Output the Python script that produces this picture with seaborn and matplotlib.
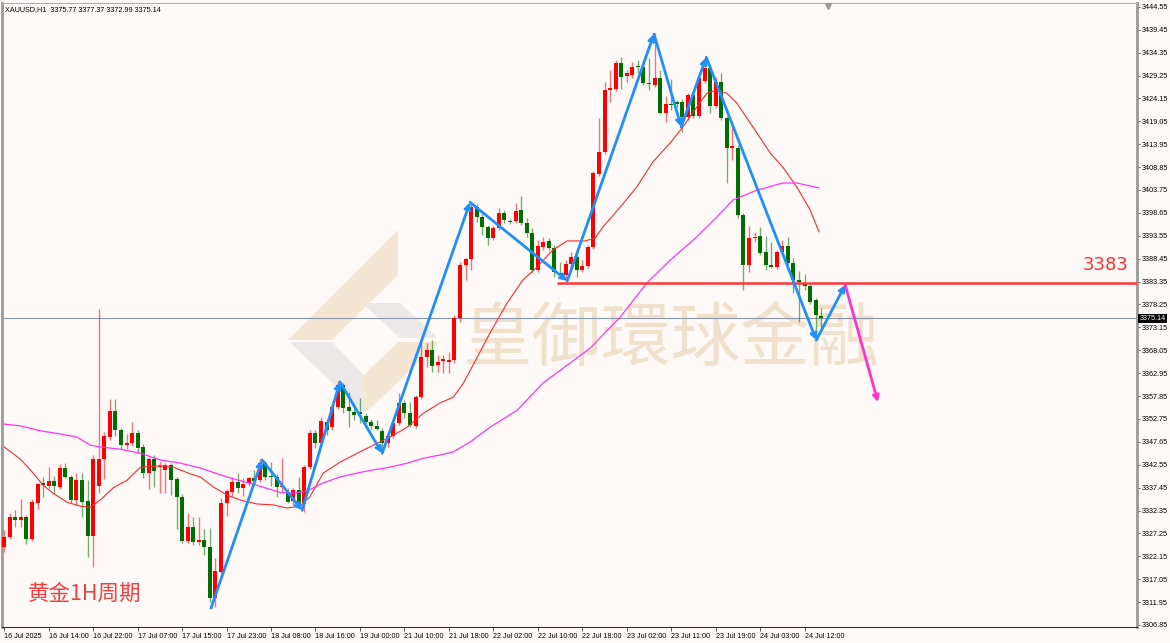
import numpy as np
import pandas as pd
import matplotlib
matplotlib.use('Agg')
import matplotlib.pyplot as plt
import seaborn as sns
from matplotlib.patches import Polygon

# XAUUSD H1 candles, bar 0 = 16 Jul 2025
opens = [3324.2, 3326.4, 3330.9, 3330.2, 3330.9, 3326.0, 3334.0, 3338.5, 3337.8, 3338.9,
         3337.6, 3341.8, 3339.8, 3334.7, 3339.1, 3334.5, 3326.7, 3337.8, 3343.8, 3348.7,
         3354.5, 3350.3, 3346.9, 3347.4, 3349.6, 3346.5, 3340.7, 3343.8, 3342.0, 3341.4,
         3342.5, 3339.4, 3335.4, 3325.6, 3328.7, 3325.3, 3325.8, 3324.2, 3312.9, 3318.7,
         3334.0, 3336.5, 3338.7, 3337.4, 3338.5, 3339.6, 3339.1, 3342.9, 3340.0, 3339.8,
         3337.6, 3336.5, 3334.5, 3336.9, 3333.8, 3342.0, 3349.6, 3347.4, 3352.1, 3351.0,
         3355.4, 3360.3, 3355.4, 3354.3, 3354.3, 3353.4, 3352.1, 3351.2, 3350.1, 3347.4,
         3348.9, 3351.8, 3356.3, 3354.1, 3351.2, 3357.6, 3366.5, 3368.1, 3364.8, 3365.7,
         3365.4, 3365.9, 3375.2, 3387.0, 3388.4, 3399.9, 3397.7, 3395.5, 3393.0, 3395.3,
         3398.6, 3396.8, 3396.8, 3399.3, 3396.4, 3394.2, 3385.9, 3391.0, 3392.4, 3390.8,
         3385.2, 3384.8, 3387.3, 3388.8, 3385.9, 3386.8, 3391.0, 3407.3, 3412.2, 3426.0,
         3426.2, 3432.0, 3429.1, 3429.3, 3431.3, 3431.1, 3427.6, 3427.1, 3428.7, 3420.9,
         3422.9, 3423.3, 3423.3, 3420.0, 3424.9, 3420.2, 3428.0, 3430.9, 3422.4, 3427.8,
         3419.8, 3413.1, 3413.1, 3398.2, 3387.0, 3393.0, 3393.5, 3389.9, 3387.0, 3386.6,
         3389.9, 3391.3, 3387.5, 3383.7, 3383.0, 3382.4, 3379.2, 3375.77]
highs = [3328.0, 3331.8, 3332.5, 3334.9, 3331.4, 3334.9, 3338.5, 3339.8, 3342.0, 3340.0,
         3342.7, 3342.9, 3340.3, 3340.7, 3340.7, 3339.1, 3344.7, 3377.2, 3349.8, 3357.2,
         3357.2, 3350.7, 3349.4, 3352.1, 3350.3, 3347.2, 3344.3, 3344.7, 3343.2, 3342.9,
         3342.9, 3339.8, 3336.0, 3331.8, 3330.9, 3330.9, 3328.2, 3328.5, 3321.8, 3335.1,
         3337.1, 3339.8, 3340.7, 3339.6, 3339.8, 3341.4, 3343.8, 3343.4, 3343.2, 3340.5,
         3344.0, 3337.4, 3337.4, 3339.8, 3342.5, 3350.3, 3350.3, 3353.2, 3352.7, 3355.9,
         3361.2, 3360.8, 3358.7, 3355.4, 3357.4, 3354.1, 3352.7, 3352.5, 3350.7, 3349.4,
         3352.7, 3358.5, 3357.0, 3356.5, 3358.1, 3370.3, 3369.7, 3370.3, 3367.0, 3367.0,
         3367.7, 3375.9, 3387.7, 3388.6, 3401.1, 3400.6, 3398.4, 3395.9, 3395.7, 3399.7,
         3399.3, 3397.3, 3400.8, 3402.4, 3397.5, 3395.3, 3392.6, 3393.3, 3393.0, 3391.5,
         3387.7, 3388.1, 3389.9, 3389.9, 3388.1, 3391.5, 3408.0, 3419.8, 3427.8, 3430.5,
         3432.7, 3433.4, 3430.5, 3432.2, 3432.7, 3432.7, 3433.1, 3438.7, 3430.5, 3424.7,
         3428.5, 3423.8, 3424.0, 3425.3, 3425.6, 3429.3, 3433.4, 3431.6, 3428.9, 3429.8,
         3420.2, 3418.7, 3413.8, 3398.6, 3395.7, 3394.4, 3395.5, 3393.5, 3392.2, 3390.4,
         3392.6, 3393.3, 3388.6, 3385.7, 3385.0, 3382.8, 3379.7, 3377.37]
lows = [3323.1, 3326.0, 3328.7, 3328.7, 3324.9, 3325.6, 3332.7, 3335.4, 3337.4, 3336.0,
        3337.1, 3339.6, 3334.0, 3333.6, 3330.9, 3322.0, 3319.8, 3336.2, 3339.4, 3348.1,
        3348.9, 3346.0, 3346.0, 3346.7, 3345.2, 3339.6, 3337.1, 3337.6, 3336.2, 3336.2,
        3335.8, 3328.2, 3325.1, 3325.1, 3324.7, 3324.7, 3322.4, 3312.0, 3310.9, 3318.2,
        3331.1, 3335.6, 3336.2, 3335.6, 3337.8, 3338.5, 3338.7, 3339.1, 3337.8, 3335.4,
        3336.5, 3334.0, 3333.6, 3333.4, 3332.0, 3341.6, 3346.3, 3346.9, 3349.2, 3350.3,
        3355.0, 3354.1, 3351.0, 3352.5, 3351.8, 3351.0, 3350.5, 3350.3, 3345.2, 3346.5,
        3348.5, 3351.4, 3353.0, 3351.0, 3350.7, 3357.2, 3364.3, 3363.2, 3363.2, 3363.0,
        3363.0, 3365.2, 3374.3, 3383.7, 3385.9, 3396.6, 3393.7, 3391.5, 3392.6, 3394.8,
        3396.4, 3396.2, 3396.4, 3395.9, 3393.3, 3385.2, 3385.5, 3390.4, 3390.4, 3384.4,
        3384.4, 3383.2, 3385.9, 3384.4, 3385.5, 3386.4, 3390.6, 3406.8, 3411.7, 3423.3,
        3425.8, 3426.2, 3427.8, 3428.7, 3429.8, 3427.1, 3426.0, 3426.7, 3420.7, 3418.9,
        3421.5, 3422.2, 3416.6, 3419.3, 3419.8, 3419.8, 3427.6, 3420.9, 3422.0, 3419.3,
        3405.3, 3410.4, 3397.5, 3381.5, 3385.5, 3392.2, 3389.3, 3385.9, 3386.4, 3386.1,
        3389.5, 3387.0, 3380.8, 3374.3, 3381.5, 3378.3, 3371.0, 3372.99]
closes = [3326.4, 3330.9, 3330.2, 3330.9, 3326.0, 3334.2, 3338.3, 3338.0, 3338.9, 3337.8,
          3341.8, 3339.8, 3334.7, 3339.1, 3334.2, 3326.7, 3343.8, 3343.8, 3348.9, 3354.5,
          3350.3, 3346.9, 3347.4, 3349.6, 3346.3, 3340.7, 3343.8, 3341.2, 3342.3, 3342.5,
          3339.1, 3335.4, 3325.6, 3328.7, 3325.3, 3325.8, 3324.2, 3312.9, 3318.9, 3334.0,
          3336.7, 3338.7, 3337.4, 3338.3, 3339.6, 3338.9, 3342.9, 3339.8, 3339.8, 3337.6,
          3337.8, 3334.2, 3336.9, 3333.8, 3342.0, 3349.6, 3347.4, 3352.3, 3350.3, 3355.4,
          3360.3, 3355.2, 3354.5, 3353.6, 3353.8, 3352.1, 3351.2, 3350.5, 3347.4, 3348.9,
          3351.8, 3356.3, 3354.1, 3351.4, 3357.6, 3366.5, 3368.1, 3364.5, 3365.4, 3365.9,
          3365.9, 3375.2, 3387.0, 3388.4, 3399.9, 3397.7, 3395.5, 3393.0, 3395.3, 3398.6,
          3397.0, 3396.6, 3399.0, 3396.4, 3394.2, 3385.9, 3391.3, 3392.2, 3390.8, 3385.5,
          3384.8, 3387.3, 3388.8, 3385.9, 3386.8, 3391.0, 3407.5, 3412.2, 3426.0, 3426.4,
          3432.0, 3428.9, 3429.8, 3431.1, 3431.1, 3427.6, 3427.3, 3428.7, 3420.9, 3422.9,
          3422.7, 3422.9, 3420.0, 3424.9, 3420.2, 3428.7, 3430.9, 3422.4, 3427.8, 3419.8,
          3413.1, 3413.5, 3398.2, 3387.0, 3393.0, 3393.3, 3389.7, 3387.0, 3386.6, 3389.9,
          3391.3, 3387.5, 3383.7, 3383.2, 3382.4, 3378.8, 3375.9, 3375.14]

time_labels = ['16 Jul 2025', '16 Jul 14:00', '16 Jul 22:00', '17 Jul 07:00', '17 Jul 15:00',
               '17 Jul 23:00', '18 Jul 08:00', '18 Jul 16:00', '19 Jul 00:00', '21 Jul 10:00',
               '21 Jul 18:00', '22 Jul 02:00', '22 Jul 10:00', '22 Jul 18:00', '23 Jul 02:00',
               '23 Jul 11:00', '23 Jul 19:00', '24 Jul 03:00', '24 Jul 12:00']

# red (fast) moving average, sampled along the line
ma_fast_bar = [0, 2.9, 5.2, 7, 8.8, 11.3, 13.7, 15.5, 17.3, 19.6, 22.1, 24.5, 28, 30.4, 33.5,
               35.3, 37.6, 40.1, 42.4, 45.5, 48.4, 50.9, 53.2, 55, 57.4, 60.4, 63.5, 66.4,
               69.4, 72.5, 75.4, 78.4, 80.8, 82.6, 85.1, 87.4, 90.5, 93.3, 95.9, 98.7, 101.3,
               104.5, 106.3, 107.7, 110.8, 113.8, 116.7, 119.8, 122.1, 124.6, 126.4, 128.2,
               130, 131.8, 134.7, 137.8, 140.1, 142.6, 145, 146.6]
ma_fast_val = [3346.5, 3343.8, 3340.7, 3338.0, 3336.2, 3334.2, 3333.3, 3333.1, 3334.7, 3337.4,
               3339.1, 3342.0, 3342.3, 3342.0, 3340.5, 3339.8, 3337.6, 3335.8, 3334.7, 3333.8,
               3333.6, 3332.9, 3333.3, 3335.4, 3340.7, 3343.1, 3345.1, 3346.9, 3348.7, 3350.9,
               3354.0, 3356.3, 3357.6, 3360.7, 3366.5, 3371.9, 3378.6, 3383.7, 3386.6, 3390.4,
               3392.4, 3392.4, 3393.0, 3395.5, 3399.9, 3404.4, 3410.0, 3414.2, 3417.8, 3422.2,
               3425.3, 3426.0, 3425.3, 3423.1, 3417.8, 3412.0, 3408.8, 3404.4, 3399.3, 3394.4]

# magenta (slow) moving average
ma_slow_bar = [0, 2.9, 6.5, 10.1, 13.1, 15.5, 17.3, 20.9, 24.5, 28.1, 31.7, 35.3, 40.1, 44.8,
               49.6, 52, 54.5, 57.4, 60.4, 63.5, 66.4, 69.4, 72.5, 75.4, 78.4, 80.8, 83.8,
               87.4, 92.3, 96.9, 101.8, 105.4, 110.8, 115.6, 119.8, 124.6, 128.2, 131.1,
               135.4, 140.1, 142.6, 146.6]
ma_slow_val = [3351.6, 3351.2, 3350.1, 3349.4, 3348.7, 3346.9, 3346.5, 3346.0, 3345.1, 3343.6,
               3342.9, 3341.8, 3339.8, 3338.2, 3336.4, 3336.2, 3336.7, 3338.5, 3339.8, 3340.7,
               3341.4, 3342.0, 3342.9, 3344.0, 3344.7, 3345.4, 3347.6, 3350.9, 3354.7, 3360.7,
               3365.2, 3368.5, 3375.4, 3383.0, 3388.1, 3393.3, 3397.7, 3401.5, 3403.7, 3405.3,
               3405.3, 3404.2]

# blue wave drawing and magenta projection
wave_bar = [37.2, 46.4, 53.6, 60.4, 68, 83.8, 101.3, 116.9, 121.8, 126.3, 146.1, 151.3]
wave_val = [3310.6, 3343.6, 3332.4, 3361.0, 3345.1, 3401.0, 3383.5, 3438.5, 3417.8, 3433.3,
            3370.3, 3382.6]
proj_bar = [151.3, 157.2]
proj_val = [3382.6, 3356.5]

level_price = 3383
level_start = 99.5
last_price = 3375.14

sns.set_theme(style='white')
plt.rcParams['font.family'] = ['Liberation Sans', 'DejaVu Sans', 'Noto Sans CJK SC']

bg = '#fffaf8'
fig = plt.figure(figsize=(11.7, 6.43), dpi=100, facecolor=bg)
ax = fig.add_axes([2 / 1170, 16 / 643, 1135 / 1170, 624 / 643])
ax.set_facecolor(bg)

# watermark logo + name
def px(xp, yp):
    return ((xp - 2) / 1135, (627 - yp) / 624)

beige = '#f4e6d2'
grey = '#ece9e8'
for pts, col in [([(398, 230), (398, 275), (332, 340), (288, 340)], beige),
                 ([(290, 342), (332, 342), (364, 375), (364, 414)], grey),
                 ([(364, 414), (364, 375), (398, 342), (440, 342)], beige),
                 ([(362, 303), (400, 303), (438, 338), (400, 338)], grey)]:
    ax.add_patch(Polygon([px(*p) for p in pts], closed=True, transform=ax.transAxes,
                         facecolor=col, edgecolor='none', zorder=0))
ax.text(0.59, 0.46, '皇御環球金融', transform=ax.transAxes, ha='center', va='center',
        fontsize=50, color='#f1e0cb', zorder=0.5,
        family=['Noto Sans CJK TC', 'DejaVu Sans'])

df = pd.DataFrame({'open': opens, 'high': highs, 'low': lows, 'close': closes})
df['bar'] = np.arange(len(df))
up = df['close'] >= df['open']
col = np.where(up, '#ff0000', '#006f00')
body_lo = np.minimum(df['open'], df['close'])
body_h = np.maximum(np.abs(df['close'] - df['open']), 0.3)

ax.vlines(df['bar'], df['low'], df['high'], colors=col, lw=1, alpha=0.55, zorder=2)
ax.bar(df['bar'], body_h, bottom=body_lo, width=0.72, color=col, linewidth=0, zorder=3)

sns.lineplot(x=ma_fast_bar, y=ma_fast_val, ax=ax, color='#ff2a2a', lw=0.8, zorder=4)
sns.lineplot(x=ma_slow_bar, y=ma_slow_val, ax=ax, color='#ff33ff', lw=0.9, zorder=4)

ax.axhline(last_price, color='#8795ab', lw=0.8, zorder=1)
ax.hlines(level_price, level_start, 204, color='#ff3636', lw=1.8, zorder=5)

for i in range(len(wave_bar) - 1):
    ax.annotate('', xy=(wave_bar[i + 1], wave_val[i + 1]), xytext=(wave_bar[i], wave_val[i]),
                arrowprops=dict(arrowstyle='->', color='#1e8fff', lw=2, mutation_scale=9,
                                shrinkA=0, shrinkB=0), zorder=6)
ax.annotate('', xy=(proj_bar[1], proj_val[1]), xytext=(proj_bar[0], proj_val[0]),
            arrowprops=dict(arrowstyle='->', color='#ff33cc', lw=2, mutation_scale=9,
                            shrinkA=0, shrinkB=0), zorder=6)

ax.set_xlim(-0.4, 203.8)
ax.set_ylim(3306.4, 3445.4)

yt = np.round(np.arange(3306.85, 3444.6, 5.10), 2)
ax.yaxis.tick_right()
ax.set_yticks(yt)
ax.set_yticklabels([f'{v:.2f}' for v in yt])
ax.set_xticks(np.arange(0, 8 * len(time_labels), 8))
ax.set_xticklabels(time_labels)
for lbl in ax.get_xticklabels():
    lbl.set_ha('left')
ax.tick_params(axis='both', direction='out', length=3, width=0.6, color='#444444',
               labelsize=5.2, labelcolor='black', pad=1.5)
ax.tick_params(axis='x', bottom=True, pad=1.5)
ax.tick_params(axis='y', right=True, left=False, length=2.5, pad=1)

for side, lw, c in [('left', 2.0, '#9a9a9a'), ('right', 2.0, '#9a9a9a'),
                    ('top', 0.8, '#b0b0b0'), ('bottom', 0.8, '#333333')]:
    ax.spines[side].set_linewidth(lw)
    ax.spines[side].set_color(c)

ax.text(1.0022, last_price, f'{last_price:.2f}', transform=ax.get_yaxis_transform(),
        ha='left', va='center', color='white', fontsize=5.2,
        bbox=dict(facecolor='black', edgecolor='none', pad=0.8), zorder=10, clip_on=False)

ax.text(202.3, 3387.0, '3383', ha='right', va='center', color='#ff3030', fontsize=13, zorder=7,
        family=['DejaVu Sans'])
ax.text(0.0229, 0.053, '黄金1H周期', transform=ax.transAxes, ha='left', va='center',
        fontsize=15.5, color='#f04040', family=['Noto Sans CJK SC', 'DejaVu Sans'], zorder=7)
ax.text(0.0026, 0.990, 'XAUUSD,H1  3375.77 3377.37 3372.99 3375.14', transform=ax.transAxes,
        ha='left', va='center', fontsize=5.2, color='black', zorder=7)
ax.plot([148.2], [0.995], marker='v', color='#9a9a9a', ms=5, transform=ax.get_xaxis_transform(),
        clip_on=False, zorder=8)

fig.savefig('out.png', dpi=100, facecolor=bg)
